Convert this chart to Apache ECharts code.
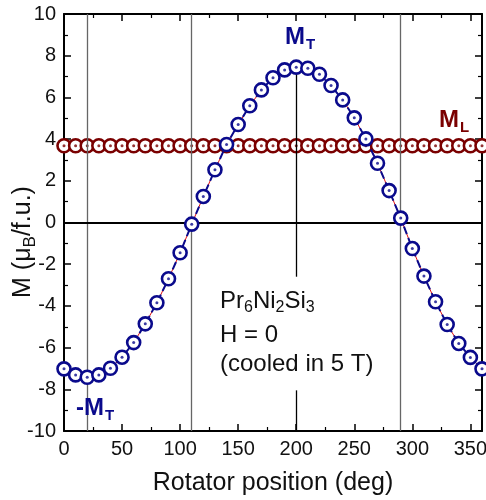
<!DOCTYPE html>
<html><head><meta charset="utf-8">
<script src="https://cdn.jsdelivr.net/npm/echarts@6/dist/echarts.min.js"></script>
<style>html,body{margin:0;padding:0;background:#fff}#c{width:486px;height:500px}</style>
</head><body><div id="c"></div>
<script>
const angles = [0,10,20,30,40,50,60,70,80,90,100,110,120,130,140,150,160,170,180,190,200,210,220,230,240,250,260,270,280,290,300,310,320,330,340,350,360];
const mT = [-7.02,-7.31,-7.42,-7.31,-6.99,-6.46,-5.76,-4.86,-3.85,-2.70,-1.45,-0.08,1.25,2.53,3.74,4.70,5.60,6.36,6.94,7.32,7.45,7.40,7.11,6.57,5.88,5.02,4.01,2.84,1.53,0.21,-1.25,-2.57,-3.80,-4.89,-5.80,-6.47,-7.02];
const mL = [3.68,3.68,3.68,3.68,3.68,3.68,3.68,3.68,3.68,3.68,3.68,3.68,3.68,3.68,3.68,3.68,3.68,3.68,3.68,3.68,3.68,3.68,3.68,3.68,3.68,3.68,3.68,3.68,3.68,3.68,3.68,3.68,3.68,3.68,3.68,3.68,3.68];
const xTicks = [0,50,100,150,200,250,300,350];
const yTicks = [-10,-8,-6,-4,-2,0,2,4,6,8,10];
const guideX = [20,110,290];

const navy = '#0a0a8c', maroon = '#7a0000';
const FONT = 'Liberation Sans, Arial, sans-serif';
const chart = echarts.init(document.getElementById('c'), null, {renderer:'canvas'});
const pairs = (ys) => angles.map((a,i)=>[a, ys[i]]);

const axisCommon = () => ({
  axisLine:{show:true, onZero:false, lineStyle:{color:'#000', width:2}},
  axisTick:{show:true, inside:true, length:7, lineStyle:{color:'#000', width:1.5}},
  minorTick:{show:true, splitNumber:2, length:4, lineStyle:{color:'#000', width:1.2}},
  splitLine:{show:false}
});

chart.setOption({
  animation:false,
  backgroundColor:'#fff',
  grid:{left:64, right:4, top:14, bottom:69, containLabel:false, outerBoundsMode:'none'},
  xAxis:[
    Object.assign(axisCommon(), {type:'value', min:0, max:360, interval:50, position:'bottom',
      name:'Rotator position (deg)', nameLocation:'middle', nameGap:40,
      nameTextStyle:{fontSize:25, color:'#111', fontFamily:FONT},
      axisLabel:{fontSize:20, color:'#111', fontFamily:FONT, margin:8, showMaxLabel:false,
        formatter:(v)=> xTicks.indexOf(v)>=0 ? String(v) : ''}}),
    Object.assign(axisCommon(), {type:'value', min:0, max:360, interval:50, position:'top', axisLabel:{show:false}})
  ],
  yAxis:[
    Object.assign(axisCommon(), {type:'value', min:-10, max:10, interval:2, position:'left',
      axisLabel:{fontSize:20, color:'#111', fontFamily:FONT, margin:8,
        formatter:(v)=> yTicks.indexOf(v)>=0 ? String(v) : ''}}),
    Object.assign(axisCommon(), {type:'value', min:-10, max:10, interval:2, position:'right', axisLabel:{show:false}})
  ],
  series:[
    {type:'line', data:[], markLine:{silent:true, symbol:'none', label:{show:false},
      lineStyle:{color:'#666', width:1.3, type:'solid'},
      data: guideX.map(v=>({xAxis:v})).concat([{yAxis:0, lineStyle:{color:'#000', width:1.8}}])}},
    {type:'line', data:[], markLine:{silent:true, symbol:'none', label:{show:false},
      lineStyle:{color:'#000', width:1.3, type:'solid'},
      data:[ [{coord:[200,7.45]},{coord:[200,-2.6]}], [{coord:[200,-8.05]},{coord:[200,-10]}] ]}},
    {name:'ML', type:'line', data:pairs(mL), symbol:'circle', symbolSize:13, z:3,
      lineStyle:{color:'#d01010', width:1},
      itemStyle:{color:'#fff', borderColor:maroon, borderWidth:2.6}},
    {name:'MLdot', type:'scatter', data:pairs(mL), symbol:'circle', symbolSize:3, z:4, itemStyle:{color:maroon}},
    {name:'MTred', type:'line', data:pairs(mT), showSymbol:false, z:3, lineStyle:{color:'#e01010', width:1}},
    {name:'MT', type:'line', data:pairs(mT), symbol:'circle', symbolSize:13, z:5,
      lineStyle:{color:navy, width:2, type:[8,4]},
      itemStyle:{color:'#fff', borderColor:navy, borderWidth:2.6}},
    {name:'MTdot', type:'scatter', data:pairs(mT), symbol:'circle', symbolSize:3, z:6, itemStyle:{color:navy}}
  ],
  graphic:[
    {type:'text', x:23, y:242, rotation:Math.PI/2, z:10, style:{text:'{a|M (μ}{s|B}{a|/f.u.)}', align:'center', verticalAlign:'middle',
      rich:{a:{fontSize:25, fill:'#111', fontFamily:FONT}, s:{fontSize:17, fill:'#111', fontFamily:FONT, padding:[14,0,0,0]}}}},
    {type:'text', left:285, top:25, z:10, style:{text:'{m|M}{s|T}', rich:{m:{fontSize:24, fontWeight:'bold', fill:navy, fontFamily:FONT}, s:{fontSize:15, fontWeight:'bold', fill:navy, fontFamily:FONT, padding:[15,0,0,1]}}}},
    {type:'text', left:439, top:108, z:10, style:{text:'{m|M}{s|L}', rich:{m:{fontSize:24, fontWeight:'bold', fill:maroon, fontFamily:FONT}, s:{fontSize:15, fontWeight:'bold', fill:maroon, fontFamily:FONT, padding:[15,0,0,1]}}}},
    {type:'text', left:76, top:396, z:10, style:{text:'{m|-M}{s|T}', rich:{m:{fontSize:24, fontWeight:'bold', fill:navy, fontFamily:FONT}, s:{fontSize:15, fontWeight:'bold', fill:navy, fontFamily:FONT, padding:[15,0,0,1]}}}},
    {type:'text', left:220, top:289, z:10, style:{text:'{m|Pr}{s|6}{m|Ni}{s|2}{m|Si}{s|3}', rich:{m:{fontSize:24, fill:'#111', fontFamily:FONT}, s:{fontSize:16, fill:'#111', fontFamily:FONT, padding:[14,0,0,0]}}}},
    {type:'text', left:220, top:323, z:10, style:{text:'H = 0', fontSize:24, fill:'#111', fontFamily:FONT}},
    {type:'text', left:220, top:352, z:10, style:{text:'(cooled in 5 T)', fontSize:24, fill:'#111', fontFamily:FONT}}
  ]
});
</script></body></html>
